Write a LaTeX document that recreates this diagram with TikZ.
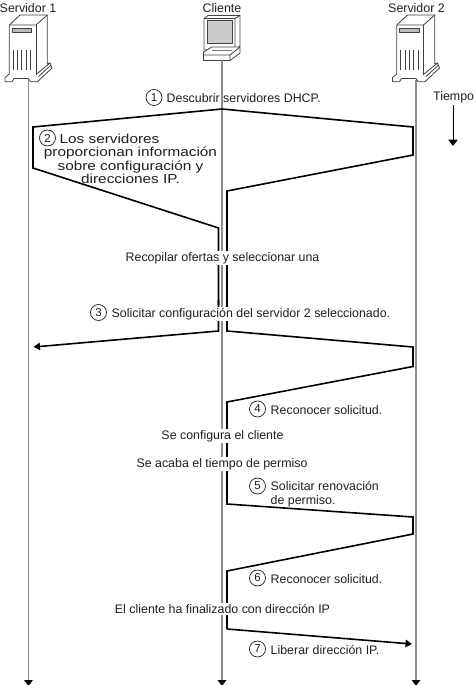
\documentclass[tikz,border=0pt]{standalone}
\usepackage{fontspec}
\setmainfont{Liberation Sans}
\newfontfamily\widefont[FakeStretch=1.18]{Liberation Sans}
\usetikzlibrary{arrows.meta}
\definecolor{lifegray}{gray}{0.55}
\definecolor{ink}{gray}{0.12}
\definecolor{icoline}{gray}{0.25}
\tikzset{
  x=1pt,y=-1pt,
  life/.style={draw=lifegray,line width=1.3pt},
  msg/.style={draw=black,line width=1.6pt,line join=miter},
  tipped/.style={msg,-{Triangle[width=7.5pt,length=6.5pt]}},
  lifetip/.style={life,-{Triangle[width=8.5pt,length=6pt,color=black,fill=black]}},
  lbl/.style={text=ink,font=\fontsize{12.4}{14.3}\selectfont,inner sep=0pt,anchor=west},
  clbl/.style={text=ink,font=\fontsize{12.4}{14.3}\selectfont,inner sep=0pt,anchor=center,align=center},
  cover/.style={fill=white,inner xsep=1pt,inner ysep=1.5pt},
  num/.style={draw=ink,circle,line width=0.7pt,minimum size=16pt,inner sep=0pt,text=ink,font=\fontsize{11.5}{11.5}\selectfont,fill=white},
  ico/.style={draw=icoline,line width=0.8pt,line join=round,fill=white},
}
\newcommand{\servericon}[1]{%
\begin{scope}[shift={(#1,0)}]
  \path[ico] (-19.2,25)--(-8.5,15)--(18.8,15)--(18.8,64)--(21.5,63)--(23.5,68)--(9,81.7)--(2,81.7)--(-0,78.5)--(-14.5,78.5)--(-16.5,81.7)--(-23.5,81.7)--(-23.5,77.5)--(-19.2,74)--cycle;
  \draw[ico,fill=none] (-19.2,25)--(7.5,25)--(18.8,15);
  \draw[ico,fill=none] (7.5,25)--(7.5,75);
  \draw[ico,fill=lifegray!60] (-16.2,28.5) rectangle (3.2,32.3);
  \foreach \dx in {-15.2,-11,-6.8,-2.5,2}{\draw[draw=icoline,line width=0.9pt] (\dx,50)--(\dx,70);}
  \draw[ico,fill=none] (7.5,74.5)--(21.5,63);
  \draw[ico,fill=none] (10,76.5)--(22,65.5);
\end{scope}}
\begin{document}
\begin{tikzpicture}
\useasboundingbox (0,0) rectangle (474,685);
% lifelines
\coordinate (s1top) at (28.5,80); \coordinate (s1bot) at (28.5,686);
\coordinate (ctop) at (222,60); \coordinate (cbot) at (222,686);
\coordinate (s2top) at (416,80); \coordinate (s2bot) at (416,686);
\draw[lifetip] (s1top)--(s1bot);
\draw[lifetip] (ctop)--(cbot);
\draw[lifetip] (s2top)--(s2bot);
% icons
\servericon{28.5}
\servericon{416}
% client icon
\path[ico] (204,18.5)--(208,15.5)--(240,15.5)--(240,46)--(235,50)--(204,50)--cycle;
\draw[ico,fill=lifegray!45] (207,20.7)--(232,20.7)--(232,43)--(207,43)--cycle;
\draw[ico,fill=none] (204,18.5)--(235,18.5)--(235,50) (235,18.5)--(240,15.5);
\path[ico] (203.5,52)--(212,47)--(240,47)--(240,53)--(230,60.5)--(203.5,60.5)--cycle;
\draw[ico,fill=none] (203.5,55)--(230,55)--(240,47) (230,55)--(230,60.5);
\draw[draw=icoline!70,line width=1.5pt] (212,50.5)--(232,50.5);
\draw[lifegray,line width=1.3pt] (222,60.5)--(222,64);
% headings
\node[clbl] (hs1) at (28,8.5) {Servidor 1};
\node[clbl] (hc) at (222,8.5) {Cliente};
\node[clbl] (hs2) at (416.5,8.5) {Servidor 2};
\node[lbl] (ht) at (433,97.5) {Tiempo};
% time arrow
\coordinate (tt) at (453,105); \coordinate (tb) at (453,146);
\draw[msg,line width=1pt,-{Triangle[width=9.5pt,length=6.5pt]}] (tt)--(tb);
% messages
\coordinate (a0) at (222,109);
\coordinate (al) at (33,127); \coordinate (al2) at (33,168);
\coordinate (a3) at (218.5,228); \coordinate (a3b) at (218.5,305);
\coordinate (ar) at (413,127); \coordinate (ar2) at (413,155);
\coordinate (a4) at (227,191); \coordinate (a4b) at (227,305);
\draw[msg] (a3b)--(a3)--(al2)--(al)--(a0)--(ar)--(ar2)--(a4)--(a4b);
% message 3
\coordinate (b0) at (218.5,331); \coordinate (b1) at (33.5,347);
\coordinate (b2) at (218.5,300);
\draw[tipped] (b2)--(b0)--(b1);
\coordinate (c0) at (227,300); \coordinate (c1) at (227,331);
\coordinate (c2) at (413,347); \coordinate (c3) at (413,366.5);
\coordinate (c4) at (227,402); \coordinate (c5) at (227,467);
\draw[msg] (c0)--(c1)--(c2)--(c3)--(c4)--(c5);
% message 5/6
\coordinate (d0) at (227,459); \coordinate (d1) at (227,504);
\coordinate (d2) at (413,517); \coordinate (d3) at (413,534);
\coordinate (d4) at (227,571); \coordinate (d5) at (227,629);
\coordinate (d6) at (412,644);
\draw[msg] (d0)--(d1)--(d2)--(d3)--(d4)--(d5);
\draw[tipped] (d5)--(d6);
% plain labels with white covers
\node[clbl,cover] (t0) at (222.5,258) {Recopilar ofertas y seleccionar una};
\node[lbl,cover] (t3) at (110.5,314) {Solicitar configuración del servidor 2 seleccionado.};
\node[clbl,cover] (t9) at (222.5,436) {Se configura el cliente};
\node[clbl,cover] (t10) at (222,464) {Se acaba el tiempo de permiso};
\node[clbl,cover] (t11) at (222.5,609) {El cliente ha finalizado con dirección IP};
% numbered labels
\node[num] (n1) at (154,97.5) {1};
\node[lbl] (t1) at (166.5,98) {Descubrir servidores DHCP.};
\node[num] (n2) at (47.5,138) {2};
\node[clbl,font=\widefont\fontsize{13}{13.4}\selectfont] (t2) at (130.5,159) {\hspace*{-42pt}Los servidores\\proporcionan información\\sobre configuración y\\direcciones IP.};
\node[num] (n3) at (98.5,312.5) {3};
\node[num] (n4) at (257.5,409) {4};
\node[lbl] (t4) at (270.5,410) {Reconocer solicitud.};
\node[num] (n5) at (257.5,486) {5};
\node[lbl,align=left] (t5) at (270.5,494) {Solicitar renovación\\de permiso.};
\node[num] (n6) at (257.5,578) {6};
\node[lbl] (t6) at (270.5,579) {Reconocer solicitud.};
\node[num] (n7) at (257.5,649) {7};
\node[lbl] (t7) at (270.5,650) {Liberar dirección IP.};
\end{tikzpicture}
\end{document}
